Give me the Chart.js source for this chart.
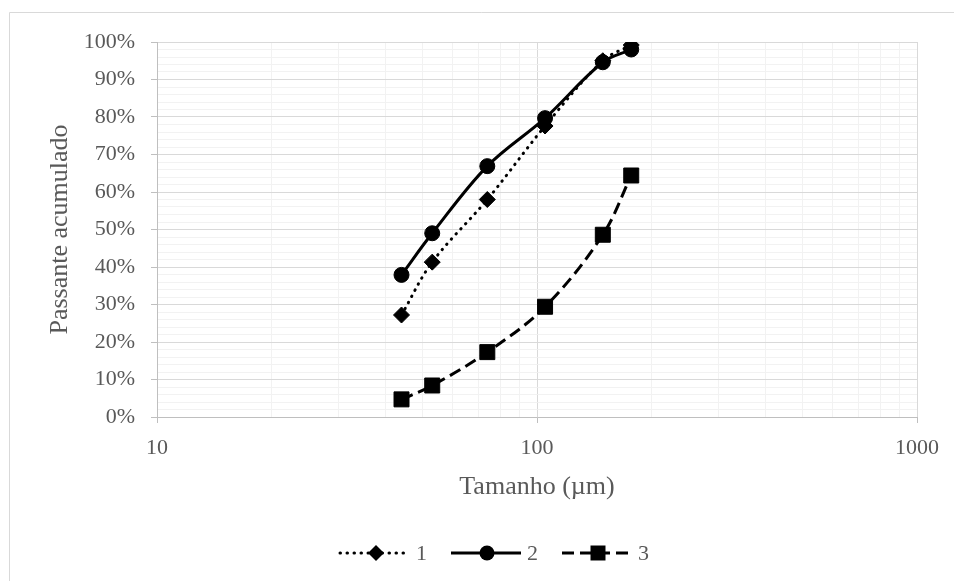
<!DOCTYPE html>
<html>
<head>
<meta charset="utf-8">
<script src="https://cdn.jsdelivr.net/npm/chart.js@4.4.1/dist/chart.umd.min.js"></script>
<style>
  html, body { margin: 0; padding: 0; background: #fff; }
  #wrap { width: 954px; height: 581px; }
</style>
</head>
<body>
<div id="wrap"><canvas id="grafico" width="954" height="581"></canvas></div>
<script>
// tamanhos das peneiras (µm)
const tamanhos = [44, 53, 74, 105, 149, 177];
// passante acumulado (%) de cada amostra
const serie1 = [27.2, 41.3, 58.0, 77.6, 95.0, 99.2];
const serie2 = [37.9, 49.0, 66.9, 79.7, 94.6, 98.0];
const serie3 = [4.7, 8.4, 17.3, 29.4, 48.6, 64.4];
const nomes = ['1', '2', '3'];

// marcas do eixo x (grade logarítmica) e do eixo y
const ticksX = [10, 20, 30, 40, 50, 60, 70, 80, 90, 100, 200, 300, 400, 500, 600, 700, 800, 900, 1000];
const rotulosX = [10, 100, 1000];

const fonte = 'Liberation Serif, Times New Roman, serif';
const cinzaTexto = '#595959';

function pontos(valores) {
  return tamanhos.map((t, i) => ({ x: t, y: valores[i] }));
}

// desenha o marcador de cada série na legenda
function marcador(ctx, estilo, r, x, y) {
  ctx.beginPath();
  if (estilo === 'circle') {
    ctx.arc(x, y, r, 0, Math.PI * 2);
  } else if (estilo === 'rect') {
    const s = r * Math.SQRT1_2;
    ctx.rect(x - s, y - s, 2 * s, 2 * s);
  } else {
    ctx.moveTo(x, y - r);
    ctx.lineTo(x + r, y);
    ctx.lineTo(x, y + r);
    ctx.lineTo(x - r, y);
    ctx.closePath();
  }
  ctx.fill();
}

const moldura = {
  id: 'moldura',
  beforeDraw(chart) {
    const ctx = chart.ctx;
    ctx.save();
    ctx.fillStyle = '#fff';
    ctx.fillRect(0, 0, chart.width, chart.height);
    ctx.strokeStyle = '#d9d9d9';
    ctx.lineWidth = 1;
    ctx.beginPath();
    ctx.moveTo(9.5, chart.height);
    ctx.lineTo(9.5, 12.5);
    ctx.lineTo(chart.width, 12.5);
    ctx.stroke();
    ctx.restore();
  }
};

const legenda = {
  id: 'legenda',
  afterDraw(chart) {
    const ctx = chart.ctx;
    const y = 553;
    let x = 340;
    ctx.save();
    chart.data.datasets.forEach(ds => {
      ctx.strokeStyle = ds.borderColor;
      ctx.lineWidth = ds.borderWidth;
      ctx.lineCap = ds.borderCapStyle || 'butt';
      ctx.setLineDash(ds.borderDash || []);
      ctx.beginPath();
      ctx.moveTo(x, y);
      ctx.lineTo(x + 70, y);
      ctx.stroke();
      ctx.setLineDash([]);
      ctx.fillStyle = ds.pointBackgroundColor;
      marcador(ctx, ds.pointStyle, ds.pointRadius, x + 36, y);
      ctx.fillStyle = cinzaTexto;
      ctx.font = '22px ' + fonte;
      ctx.textBaseline = 'middle';
      ctx.textAlign = 'left';
      ctx.fillText(ds.label, x + 76, y + 1);
      x += 111;
    });
    ctx.restore();
  }
};

const ctx = document.getElementById('grafico').getContext('2d');

new Chart(ctx, {
  type: 'line',
  data: {
    datasets: [
      {
        label: nomes[0],
        data: pontos(serie1),
        borderColor: '#000',
        borderWidth: 3,
        borderDash: [0.5, 6.5],
        borderCapStyle: 'round',
        pointStyle: 'rectRot',
        pointRadius: 8,
        pointBackgroundColor: '#000',
        pointBorderColor: '#000',
        pointBorderWidth: 1,
        tension: 0.35
      },
      {
        label: nomes[1],
        data: pontos(serie2),
        borderColor: '#000',
        borderWidth: 3,
        pointStyle: 'circle',
        pointRadius: 7.5,
        pointBackgroundColor: '#000',
        pointBorderColor: '#000',
        pointBorderWidth: 1,
        tension: 0.35
      },
      {
        label: nomes[2],
        data: pontos(serie3),
        borderColor: '#000',
        borderWidth: 3,
        borderDash: [12, 6],
        pointStyle: 'rect',
        pointRadius: 10.6,
        pointBackgroundColor: '#000',
        pointBorderColor: '#000',
        pointBorderWidth: 1,
        tension: 0.35
      }
    ]
  },
  options: {
    responsive: false,
    animation: false,
    layout: { padding: { top: 42, right: 37, left: 0, bottom: 0 } },
    plugins: {
      legend: { display: false },
      tooltip: { enabled: false }
    },
    scales: {
      x: {
        type: 'logarithmic',
        min: 10,
        max: 1000,
        afterBuildTicks: eixo => { eixo.ticks = ticksX.map(v => ({ value: v })); },
        afterFit: eixo => { eixo.height = 164; },
        border: { color: '#bfbfbf', width: 1 },
        grid: {
          color: c => rotulosX.includes(c.tick && c.tick.value) ? '#d9d9d9' : '#f2f2f2',
          tickColor: c => rotulosX.includes(c.tick && c.tick.value) ? '#bfbfbf' : 'rgba(0,0,0,0)',
          tickLength: 6
        },
        ticks: {
          autoSkip: false,
          maxRotation: 0,
          padding: 12,
          color: cinzaTexto,
          font: { family: fonte, size: 22 },
          callback: v => rotulosX.includes(v) ? String(v) : ''
        },
        title: {
          display: true,
          text: 'Tamanho (µm)',
          color: cinzaTexto,
          font: { family: fonte, size: 26 },
          padding: 78
        }
      },
      y: {
        min: 0,
        max: 100,
        afterFit: eixo => { eixo.width = 157; },
        border: { color: '#bfbfbf', width: 1 },
        grid: {
          color: c => (c.tick && c.tick.value % 10 === 0) ? '#d9d9d9' : '#f2f2f2',
          tickColor: c => (c.tick && c.tick.value % 10 === 0) ? '#bfbfbf' : 'rgba(0,0,0,0)',
          tickLength: 6
        },
        ticks: {
          stepSize: 2,
          autoSkip: false,
          padding: 16,
          color: cinzaTexto,
          font: { family: fonte, size: 22 },
          callback: v => v % 10 === 0 ? v + '%' : ''
        },
        title: {
          display: true,
          text: 'Passante acumulado',
          color: cinzaTexto,
          font: { family: fonte, size: 26 },
          padding: 45
        }
      }
    }
  },
  plugins: [moldura, legenda]
});
</script>
</body>
</html>
